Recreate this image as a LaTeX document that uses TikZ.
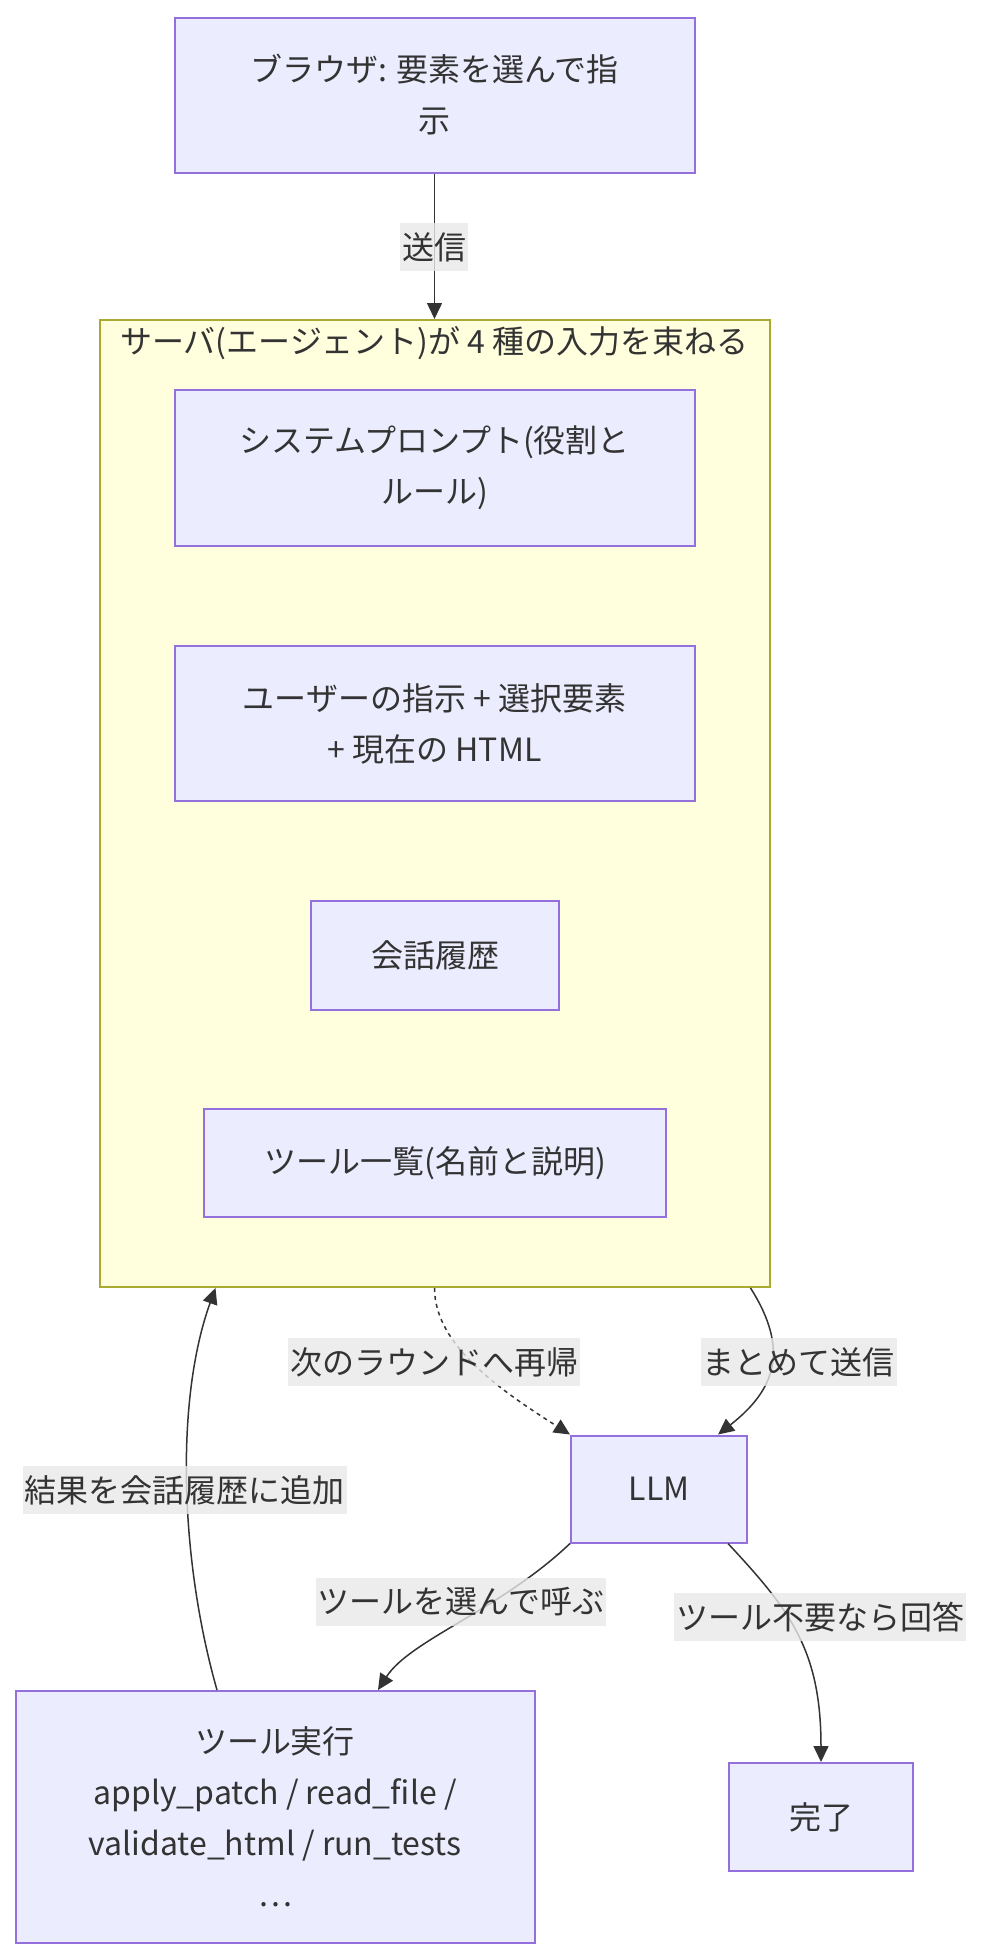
\documentclass[tikz,border=0pt]{standalone}
\usepackage{fontspec}
\setmainfont{Noto Sans CJK JP}
\usetikzlibrary{arrows.meta}
\definecolor{boxfill}{HTML}{ECECFF}
\definecolor{boxline}{HTML}{9370DB}
\definecolor{grpfill}{HTML}{FFFFDE}
\definecolor{grpline}{HTML}{AAAA33}
\definecolor{lblfill}{HTML}{E8E8E8}
\definecolor{ink}{HTML}{333333}
\tikzset{
  box/.style={draw=boxline,fill=boxfill,line width=1pt,align=center,inner sep=0pt},
  group/.style={draw=grpline,fill=grpfill,line width=1pt,inner sep=0pt},
  flow/.style={draw=ink,line width=0.75pt,-{Triangle[length=8pt,width=7.5pt]}},
  edgelabel/.style={fill=lblfill,fill opacity=0.8,text opacity=1,inner xsep=1pt,inner ysep=0pt,minimum height=24pt}
}

\begin{document}
\begin{tikzpicture}[x=0.5pt,y=-0.5pt,font=\fontsize{16pt}{25.5pt}\selectfont,text=ink]
        \useasboundingbox (0,0) rectangle (982,1960);
        % The browser
        \node[box,minimum width=260pt,minimum height=77.5pt] (browser) at (434.5,95) {ブラウザ: 要素を選んで指\\示};

        % The server and its four inputs
        \node[group,minimum width=335pt,minimum height=483.5pt] (server) at (434.5,803.5) {};
        \node (servertitle) at (434.5,343) {サーバ(エージェント)が 4 種の入力を束ねる};
        \node[box,minimum width=260pt,minimum height=78pt] (sysprompt) at (434.5,468) {システムプロンプト(役割と\\ルール)};
        \node[box,minimum width=260pt,minimum height=77.5pt] (userin) at (434.5,723.5) {ユーザーの指示 + 選択要素\\+ 現在の HTML};
        \node[box,minimum width=124pt,minimum height=54.5pt] (history) at (435,955.5) {会話履歴};
        \node[box,minimum width=231pt,minimum height=54pt] (toollist) at (435,1163) {ツール一覧(名前と説明)};

        % The model and what comes out of it
        \node[box,minimum width=88pt,minimum height=53.5pt] (llm) at (659,1489) {LLM};
        \node[box,minimum width=259.5pt,minimum height=126pt] (toolexec) at (275,1817) {ツール実行\\apply\_patch / read\_file /\\validate\_html / run\_tests\\…};
        \node[box,minimum width=92pt,minimum height=54pt] (done) at (821,1817) {完了};

        % Connectors
        \draw[flow] (browser) -- (server);
        \draw[flow,dashed,dash pattern=on 2pt off 2pt] (server.south) .. controls (434.5,1345) and (500,1390) .. (llm.north west);
        \draw[flow] ([xshift=-10pt]server.south east) .. controls (790,1350) and (775,1390) .. ([xshift=29.5pt]llm.north);
        \draw[flow] ([xshift=34.5pt]llm.south) .. controls (790,1610) and (821,1650) .. (done.north);
        \draw[flow] (llm.south west) .. controls (500,1610) and (410,1640) .. ([xshift=51.5pt]toolexec.north);
        \draw[flow] ([xshift=-29pt]toolexec.north) .. controls (180,1560) and (175,1400) .. ([xshift=-109.5pt]server.south);

        % Edge labels
        \node[edgelabel] (lsend) at (434,247) {送信};
        \node[edgelabel] (lrecur) at (434,1362) {次のラウンドへ再帰};
        \node[edgelabel] (lbundle) at (798.5,1362) {まとめて送信};
        \node[edgelabel] (lappend) at (184.5,1490) {結果を会話履歴に追加};
        \node[edgelabel] (lcall) at (461,1602) {ツールを選んで呼ぶ};
        \node[edgelabel] (lanswer) at (820,1617) {ツール不要なら回答};
    \end{tikzpicture}
\end{document}
